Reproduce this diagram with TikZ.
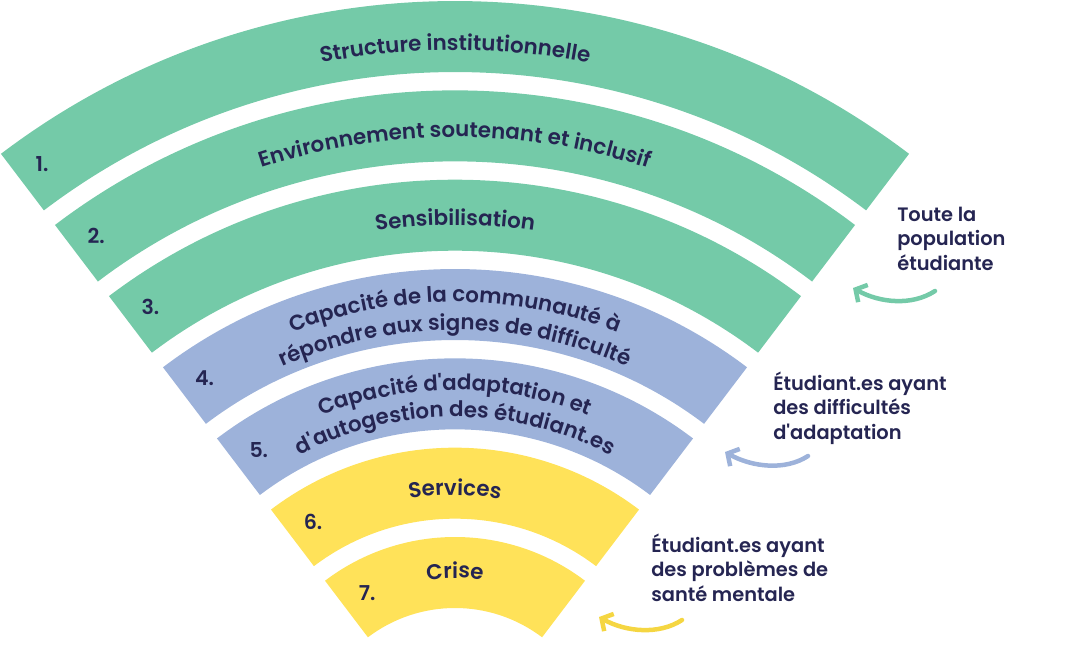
\documentclass[tikz,border=0pt]{standalone}
\usepackage{fontspec}
\setmainfont{Poppins}
\newfontfamily\medfont{Poppins SemiBold}
\usepackage{tikz}
\usetikzlibrary{arrows.meta,calc,decorations.text}
\definecolor{bandgreen}{RGB}{116,202,168}
\definecolor{bandblue}{RGB}{157,178,218}
\definecolor{bandyellow}{RGB}{255,226,89}
\definecolor{arrowyellow}{RGB}{245,214,66}
\definecolor{inkblue}{RGB}{37,37,82}
\newcommand{\bandfont}{\medfont\fontsize{15.2pt}{18pt}\selectfont\color{inkblue}}
\tikzset{
  lbl/.style={font=\medfont\fontsize{13.8pt}{17.2pt}\selectfont, text=inkblue,
              align=left, anchor=base west, inner sep=0pt},
  num/.style={font=\medfont\fontsize{14.6pt}{17pt}\selectfont, text=inkblue},
  swoosh/.style={-{Straight Barb[length=6pt,width=14pt]}, line width=3.2pt, line cap=round},
  arctext/.style={decorate, decoration={text along path, text align=center,
                  text={|\bandfont|#1}}},
}
% text on an arc of radius #1 round the funnel centre
\newcommand{\bandtext}[2]{\path[arctext={#2}] ($(C)+(128:#1)$) arc[start angle=128, end angle=52, radius=#1];}

\begin{document}
\begin{tikzpicture}[x=0.025cm, y=0.025cm]
  \useasboundingbox (0,0) rectangle (1065,-665);
  \coordinate (C) at (455,-752);
  % bands
  \foreach \k/\col in {1/bandgreen,2/bandgreen,3/bandgreen,4/bandblue,5/bandblue,6/bandyellow,7/bandyellow}{
    \pgfmathsetmacro\ro{751-89.33*(\k-1)}
    \pgfmathsetmacro\ri{\ro-71}
    \fill[\col] ($(C)+(52.8:\ro)$) arc[start angle=52.8, end angle=127.2, radius=\ro]
      -- ($(C)+(127.2:\ri)$) arc[start angle=127.2, end angle=52.8, radius=\ri] -- cycle;
    \node[num] (n\k) at ({42+54.2*(\k-1)}, {-164-71.5*(\k-1)}) {\k.};
  }
  \bandtext{702}{Structure institutionnelle}
  \bandtext{615}{Environnement soutenant et inclusif}
  \bandtext{527}{Sensibilisation}
  \bandtext{450}{Capacité de la communauté à}
  \bandtext{422}{répondre aux signes de difficulté}
  \bandtext{362}{Capacité d'adaptation et}
  \bandtext{335}{d'autogestion des étudiant.es}
  \bandtext{257}{Services}
  \bandtext{174}{Crise}
  % target groups
  \node[lbl] (pop) at (897,-270) {Toute la\\population\\étudiante};
  \node[lbl] (adapt) at (773,-439) {Étudiant.es ayant\\des difficultés\\d'adaptation};
  \node[lbl] (health) at (651,-601) {Étudiant.es ayant\\des problèmes de\\santé mentale};
  \coordinate (t1) at (935,-291); \coordinate (h1) at (853,-288);
  \coordinate (t2) at (808,-456); \coordinate (h2) at (725,-452);
  \coordinate (t3) at (682,-620); \coordinate (h3) at (599,-617);
  \draw[swoosh, bandgreen] (t1) .. controls +(-23,-15) and +(27,-15) .. (h1);
  \draw[swoosh, bandblue] (t2) .. controls +(-23,-15) and +(27,-15) .. (h2);
  \draw[swoosh, arrowyellow] (t3) .. controls +(-23,-15) and +(27,-15) .. (h3);
\end{tikzpicture}
\end{document}
